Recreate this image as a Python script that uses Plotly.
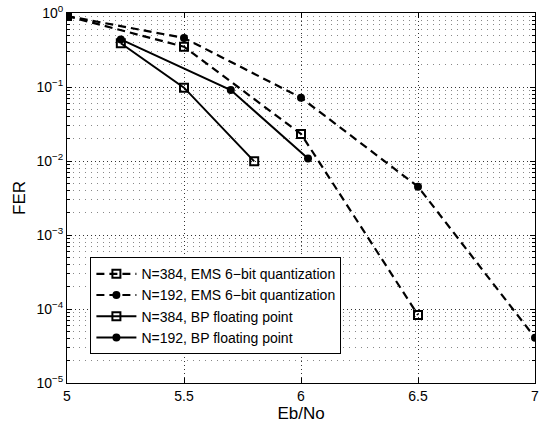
import plotly.graph_objects as go

ems384_x = [5.0, 5.5, 6.0, 6.5]
ems384_y = [0.91, 0.35, 0.0232, 8.3e-5]
ems192_x = [5.0, 5.5, 6.0, 6.5, 7.0]
ems192_y = [0.91, 0.46, 0.0717, 0.0045, 4.1e-5]
bp384_x = [5.23, 5.5, 5.8]
bp384_y = [0.39, 0.098, 0.0099]
bp192_x = [5.23, 5.7, 6.03]
bp192_y = [0.44, 0.091, 0.0108]

names = ["N=384, EMS 6\u2212bit quantization", "N=192, EMS 6\u2212bit quantization",
         "N=384, BP floating point", "N=192, BP floating point"]

ytick_vals = [1, 0.1, 0.01, 1e-3, 1e-4, 1e-5]
ytick_text = ["10<sup>0</sup>", "10<sup>\u22121</sup>", "10<sup>\u22122</sup>",
              "10<sup>\u22123</sup>", "10<sup>\u22124</sup>", "10<sup>\u22125</sup>"]
xtick_vals = [5, 5.5, 6, 6.5, 7]
xtick_text = ["5", "5.5", "6", "6.5", "7"]
minor_vals = [m * 10.0 ** e for e in range(-5, 0) for m in range(2, 10)]

fig = go.Figure()
dash = "8px,5px"
fig.add_trace(go.Scatter(x=ems384_x, y=ems384_y, name=names[0], mode="lines+markers",
                         line=dict(color="black", width=2.2, dash=dash),
                         marker=dict(symbol="square-open", size=8, color="black", line=dict(width=2))))
fig.add_trace(go.Scatter(x=ems192_x, y=ems192_y, name=names[1], mode="lines+markers",
                         line=dict(color="black", width=2.2, dash=dash),
                         marker=dict(symbol="circle", size=8, color="black")))
fig.add_trace(go.Scatter(x=bp384_x, y=bp384_y, name=names[2], mode="lines+markers",
                         line=dict(color="black", width=2),
                         marker=dict(symbol="square-open", size=8, color="black", line=dict(width=2))))
fig.add_trace(go.Scatter(x=bp192_x, y=bp192_y, name=names[3], mode="lines+markers",
                         line=dict(color="black", width=2),
                         marker=dict(symbol="circle", size=8, color="black")))

fig.update_layout(
    width=551, height=423,
    margin=dict(l=67, r=16, t=13, b=40, autoexpand=False),
    paper_bgcolor="white", plot_bgcolor="white",
    font=dict(family="Liberation Sans, Arial, sans-serif", size=14, color="black"),
    legend=dict(x=0.05, y=0.34, xanchor="left", yanchor="top",
                bordercolor="black", borderwidth=1, bgcolor="white",
                font=dict(size=14), itemwidth=40, tracegroupgap=0),
    showlegend=True,
)
fig.update_xaxes(range=[5, 7], tickvals=xtick_vals, ticktext=xtick_text, automargin=False,
                 showline=True, linecolor="black", linewidth=1, mirror="ticks",
                 ticks="inside", ticklen=5, tickcolor="black", ticklabeloverflow="allow",
                 showgrid=True, gridcolor="#333333", griddash="1px,3px", gridwidth=1,
                 zeroline=False, title=dict(text="Eb/No", standoff=2))
fig.update_yaxes(type="log", range=[-5, 0], tickvals=ytick_vals, ticktext=ytick_text, automargin=False,
                 showline=True, linecolor="black", linewidth=1, mirror="ticks",
                 ticks="inside", ticklen=5, tickcolor="black", ticklabeloverflow="allow",
                 showgrid=True, gridcolor="#333333", griddash="1px,3px", gridwidth=1,
                 minor=dict(tickvals=minor_vals, ticks="inside", ticklen=3, tickcolor="black",
                            showgrid=True, gridcolor="#888888", griddash="1px,5px", gridwidth=1),
                 zeroline=False, title=dict(text="FER", standoff=6))

fig.write_html("out.html", config={"displayModeBar": False},
               post_script="document.body.style.margin='0';")
